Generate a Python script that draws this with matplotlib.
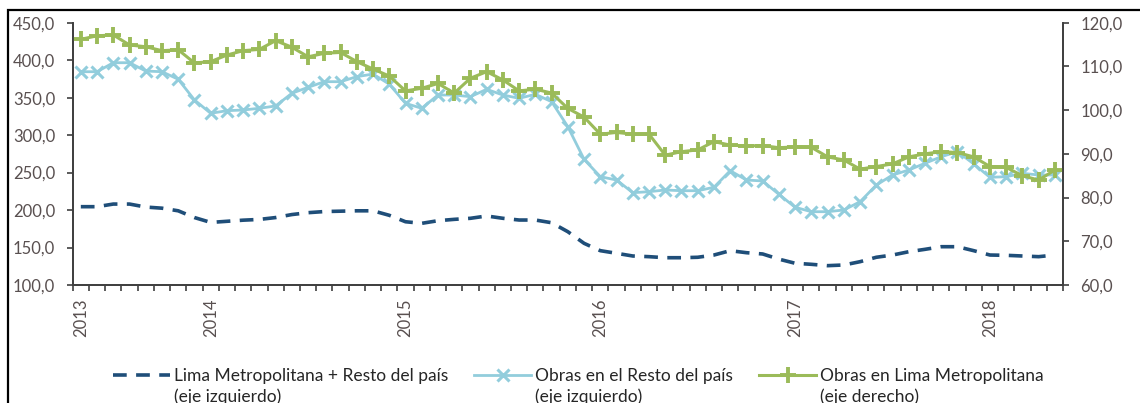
import matplotlib
matplotlib.use('Agg')
import matplotlib.pyplot as plt
import pandas as pd
from matplotlib.patches import Rectangle
from matplotlib.ticker import FixedLocator, FuncFormatter, MultipleLocator

plt.rcParams['font.family'] = ['Lato', 'DejaVu Sans']

# meses: mayo 2013 - mayo 2018
meses = pd.date_range('2013-05-01', periods=61, freq='MS')

# Lima Metropolitana + Resto del pais (eje izquierdo)
total = [204.5, 204.5, 208.0, 208.0, 204.0, 202.5, 199.0, 190.0, 183.5, 185.0,
         186.5, 187.5, 190.0, 194.0, 196.5, 198.0, 198.5, 199.0, 199.0, 193.0,
         184.4, 182.3, 185.8, 187.6, 189.0, 192.1, 189.0, 186.7, 186.7, 183.1,
         171.1, 155.6, 145.8, 142.3, 138.7, 137.8, 136.4, 136.4, 137.0, 140.0,
         145.8, 143.1, 141.4, 134.5, 129.0, 127.6, 125.8, 126.7, 131.1, 137.0,
         140.0, 144.4, 147.6, 151.1, 151.1, 145.8, 140.0, 139.6, 138.7, 137.8, 140.0]

# Obras en el Resto del pais (eje izquierdo)
resto = [384.6, 384.6, 396.6, 396.6, 385.5, 384.6, 374.5, 346.9, 329.1, 332.6,
         333.5, 335.8, 338.9, 355.8, 363.8, 371.3, 371.3, 378.0, 381.5, 368.0,
         342.4, 335.8, 353.5, 353.5, 351.3, 361.1, 353.5, 349.1, 354.5, 344.6,
         311.2, 267.7, 244.5, 240.1, 223.2, 224.5, 226.8, 225.8, 225.8, 230.4,
         252.5, 240.1, 238.8, 221.0, 203.7, 197.8, 197.8, 200.1, 211.1, 233.3,
         246.8, 253.4, 262.4, 271.2, 277.9, 261.6, 243.7, 244.5, 249.0, 246.8, 246.8]

# Obras en Lima Metropolitana (eje derecho)
lima = [116.2, 117.0, 117.2, 114.9, 114.5, 113.6, 113.8, 110.8, 111.1, 112.6,
        113.6, 113.9, 115.9, 114.4, 112.2, 113.0, 113.2, 111.1, 109.4, 107.8,
        104.4, 105.0, 106.1, 103.9, 107.3, 108.8, 106.9, 104.4, 104.8, 103.9,
        100.4, 98.4, 94.5, 94.9, 94.5, 94.5, 89.7, 90.5, 90.9, 92.8,
        92.0, 91.8, 91.9, 91.4, 91.6, 91.5, 89.3, 88.6, 86.5, 87.1,
        87.7, 89.3, 90.0, 90.5, 90.3, 89.3, 87.1, 86.9, 85.0, 84.0, 86.3]

etiquetas = ['Lima Metropolitana + Resto del país',
             'Obras en el Resto del país',
             'Obras en Lima Metropolitana']
ejes = ['(eje izquierdo)', '(eje izquierdo)', '(eje derecho)']

c_total = '#1F4E79'
c_resto = '#92CDDC'
c_lima = '#9BBB59'
c_txt = '#595050'
c_eje = '#404040'

x = list(range(len(meses)))

fig = plt.figure(figsize=(11.4, 4.03), dpi=100)
ax = fig.add_axes([72.7 / 1140, 1 - 285 / 403, (1063 - 72.7) / 1140, (285 - 22.7) / 403])
ax2 = ax.twinx()

l1, = ax.plot(x, total, color=c_total, lw=2.6, dashes=(3.8, 2.6), solid_capstyle='butt')
l2, = ax.plot(x, resto, color=c_resto, lw=2.0, marker='x', ms=9, mew=2.2)
l3, = ax2.plot(x, lima, color=c_lima, lw=2.2, marker='+', ms=12, mew=2.8)

ax.set_xlim(-0.5, len(meses) - 0.5)
ax.set_ylim(100, 450)
ax2.set_ylim(60, 120)
ax.yaxis.set_major_locator(MultipleLocator(50))
ax2.yaxis.set_major_locator(MultipleLocator(10))
fmt = FuncFormatter(lambda v, p: ('%.1f' % v).replace('.', ','))
ax.yaxis.set_major_formatter(fmt)
ax2.yaxis.set_major_formatter(fmt)

# etiquetas de año: primer mes y cada enero
pos_anio = [i for i, m in enumerate(meses) if i == 0 or m.month == 1]
ax.xaxis.set_major_locator(FixedLocator(pos_anio))
ax.set_xticklabels([str(meses[i].year) for i in pos_anio], rotation=90, va='top')
ax.xaxis.set_minor_locator(FixedLocator([i - 0.5 for i in range(len(meses) + 1)]))
ax.tick_params(axis='x', which='major', length=0, pad=9.5, labelsize=12, labelcolor=c_txt)
ax.tick_params(axis='x', which='minor', length=4.5, width=1.2, color=c_eje, direction='out')
ax.tick_params(axis='y', length=4.5, width=1.2, color=c_eje, pad=8, labelsize=12, labelcolor=c_txt)
ax2.tick_params(axis='y', length=4.5, width=1.2, color=c_eje, pad=8, labelsize=12, labelcolor=c_txt)

for a in (ax, ax2):
    a.spines['top'].set_visible(False)
    for s in ('left', 'right', 'bottom'):
        a.spines[s].set_color(c_eje)
        a.spines[s].set_linewidth(1.3)

# leyendas, una por serie (segunda linea como texto aparte)
anclas = [113, 474, 759]
leyendas = []
for h, lab, x0 in zip([l1, l2, l3], etiquetas, anclas):
    leg = fig.legend([h], [lab], loc='upper left', bbox_to_anchor=(x0 / 1140, 1 - 368 / 403),
                     frameon=False, fontsize=12.5, borderpad=0, borderaxespad=0,
                     handlelength=3.3, handletextpad=0.2, labelcolor='#262626')
    leyendas.append(leg)

fig.canvas.draw()
for leg, sub in zip(leyendas, ejes):
    bb = leg.get_texts()[0].get_window_extent()
    fig.text(bb.x0 / 1140, 1 - 397 / 403, sub, fontsize=12.5, color='#262626',
             ha='left', va='center')

# marco exterior
fig.patches.append(Rectangle((8 / 1140, -0.1), 1.2, 1.1 - 10 / 403, transform=fig.transFigure,
                             fill=False, edgecolor='black', lw=1.6))

fig.savefig('out.png', dpi=100)
